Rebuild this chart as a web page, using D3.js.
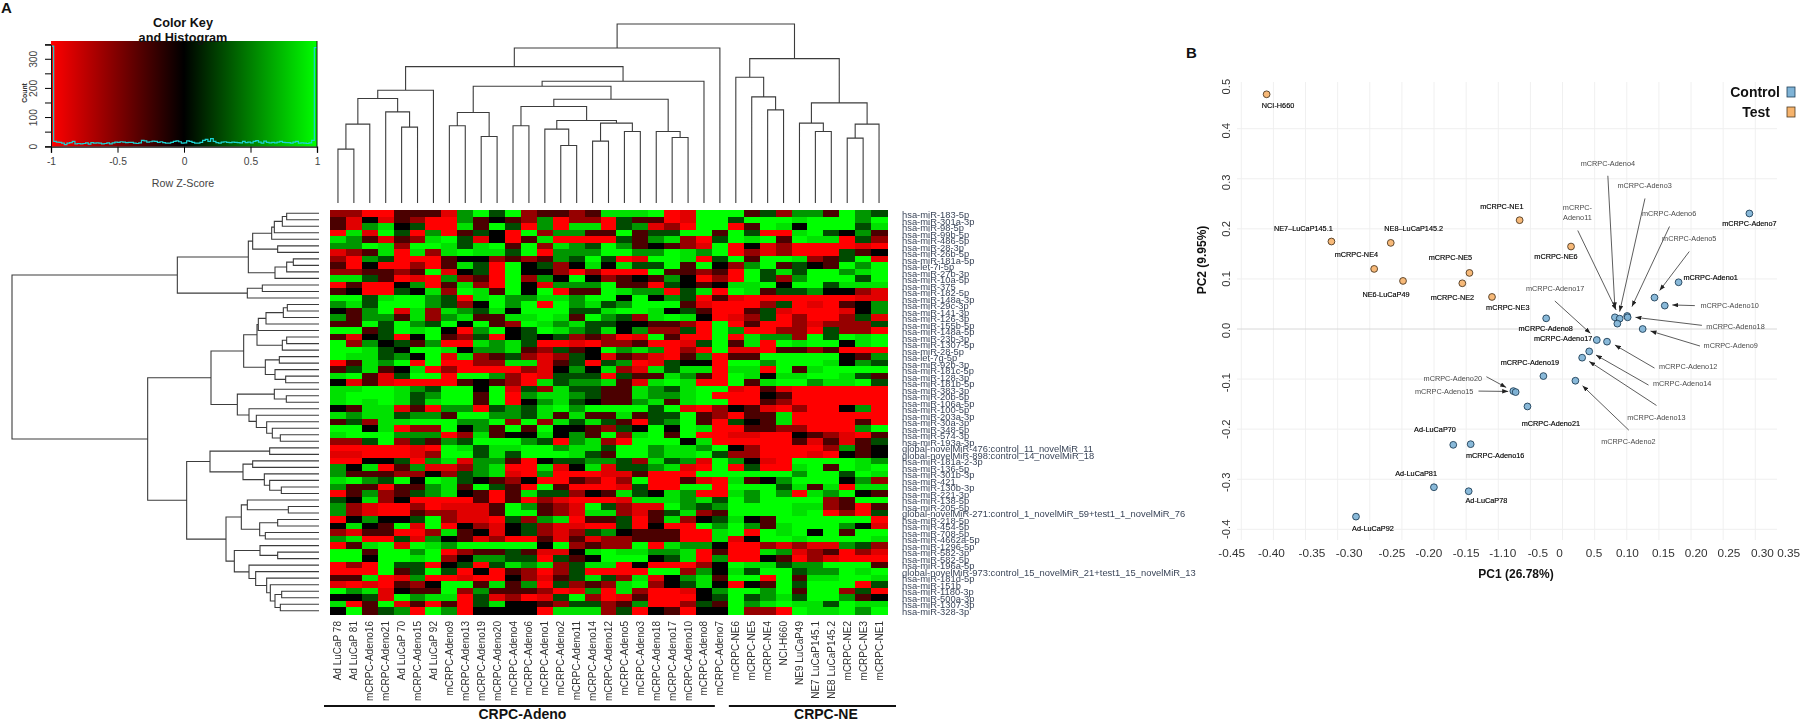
<!DOCTYPE html>
<html><head><meta charset="utf-8">
<style>html,body{margin:0;padding:0;background:#fff}svg{display:block}text{font-family:"Liberation Sans",Arial,sans-serif}</style>
<script src="https://cdn.jsdelivr.net/npm/d3@7/dist/d3.min.js"></script></head><body>
<script>
// ---------- Panel A data ----------
const colLabels = ["Ad LuCaP 78","Ad LuCaP 81","mCRPC-Adeno16","mCRPC-Adeno21","Ad LuCaP 70","mCRPC-Adeno15","Ad LuCaP 92","mCRPC-Adeno9","mCRPC-Adeno13","mCRPC-Adeno19","mCRPC-Adeno20","mCRPC-Adeno4","mCRPC-Adeno6","mCRPC-Adeno1","mCRPC-Adeno2","mCRPC-Adeno11","mCRPC-Adeno14","mCRPC-Adeno12","mCRPC-Adeno5","mCRPC-Adeno3","mCRPC-Adeno18","mCRPC-Adeno17","mCRPC-Adeno10","mCRPC-Adeno8","mCRPC-Adeno7","mCRPC-NE6","mCRPC-NE5","mCRPC-NE4","NCI-H660","NE9 LuCaP49","NE7 LuCaP145.1","NE8 LuCaP145.2","mCRPC-NE2","mCRPC-NE3","mCRPC-NE1"];
const rowLabels = ["hsa-miR-183-5p","hsa-miR-301a-3p","hsa-miR-98-5p","hsa-miR-99b-5p","hsa-miR-486-5p","hsa-miR-28-3p","hsa-miR-26b-5p","hsa-miR-181a-5p","hsa-let-7i-5p","hsa-miR-27b-3p","hsa-miR-10a-5p","hsa-miR-375","hsa-miR-182-5p","hsa-miR-148a-3p","hsa-miR-29c-3p","hsa-miR-141-3p","hsa-miR-126-3p","hsa-miR-155b-5p","hsa-miR-148a-5p","hsa-miR-23b-3p","hsa-miR-1307-5p","hsa-miR-28-5p","hsa-let-7g-5p","hsa-miR-92b-3p","hsa-miR-181c-5p","hsa-miR-128-3p","hsa-miR-181b-5p","hsa-miR-383-3p","hsa-miR-20b-5p","hsa-miR-106a-5p","hsa-miR-100-5p","hsa-miR-203a-3p","hsa-miR-30a-3p","hsa-miR-348-5p","hsa-miR-574-3p","hsa-miR-193a-3p","global-novelMiR-476:control_11_novelMiR_11","global-novelMiR-898:control_14_novelMiR_18","hsa-miR-181a-2-3p","hsa-miR-136-5p","hsa-miR-301b-3p","hsa-miR-421","hsa-miR-130b-3p","hsa-miR-221-3p","hsa-miR-138-5p","hsa-miR-205-5p","global-novelMiR-271:control_1_novelMiR_59+test1_1_novelMiR_76","hsa-miR-218-5p","hsa-miR-454-5p","hsa-miR-708-5p","hsa-miR-4662a-5p","hsa-miR-1296-5p","hsa-miR-582-3p","hsa-miR-582-5p","hsa-miR-196a-5p","global-novelMiR-973:control_15_novelMiR_21+test1_15_novelMiR_13","hsa-miR-181d-5p","hsa-miR-151b","hsa-miR-1180-3p","hsa-miR-500a-3p","hsa-miR-1307-3p","hsa-miR-328-3p"];
// Heat cells: 0 = full red, 4 = black, 8 = full green (one string per row).
const heatRows = [
"22003 33168 58233 23777 80188 83526 63865","31413 20063 43260 22053 30188 58887 88868","31674 50073 85060 77056 12088 03874 88857",
"07185 06035 40826 63383 55883 85007 85463","76313 27851 40370 00053 67205 87838 77052","66872 88757 83827 65863 43218 04120 00010",
"12370 72787 75806 66886 68768 02120 00534","20650 00344 23236 58501 88705 83887 23581","30400 20375 08452 47475 58384 26835 43868",
"22332 38145 08442 02000 83323 08575 88678","77530 10623 08264 84234 36402 08526 88858","03004 60372 08416 66833 05434 77848 85777",
"34005 47287 38480 33876 60570 87355 64421","88578 86507 86677 68848 46503 10000 00011","67588 86524 86808 67568 88310 00250 10346",
"43681 72765 74888 55788 74530 03510 00146","63663 72673 37787 38652 78740 12502 00251","33858 65848 32876 75544 33208 03002 12225",
"88358 78406 84587 65746 22508 60022 05220","31450 48325 04545 23201 83008 07662 85878","82645 36007 67500 10223 00158 37087 88478",
"88754 88746 67325 34867 60208 11033 23000","87756 48172 35212 54132 10360 33888 88436","03768 08002 27713 50560 15440 88688 87465",
"35734 70200 00214 64721 75770 77083 78888","78315 88088 62015 55053 37630 87477 88753","41310 00034 32075 66731 78700 83788 67785",
"77887 65884 81527 55337 65788 10310 00000","78887 56883 80677 65337 66780 00430 00000","78787 57883 80467 54336 73788 00320 00000",
"43771 30660 56578 68888 58102 43102 00460","76775 66388 66573 73373 55832 03370 00000","35277 88866 82827 57530 56830 54370 00030",
"88470 22846 38384 43254 84870 03322 00068","78886 66027 34474 63827 83800 11004 32103","22582 53658 88650 67208 88470 00003 13135",
"00000 10875 77886 77588 67768 42000 02634","11000 12885 75888 75388 67785 22000 10434","00445 06716 63045 56652 75618 64108 88876",
"64703 61126 70071 47155 67108 05007 83878","63332 24256 71060 00113 00088 88886 88587","78658 48754 32400 32028 00310 73468 88462",
"63303 36738 53083 00015 00880 88857 37077","03623 56743 03755 24375 47600 76860 76843","54724 00003 03021 00017 77675 86888 82388",
"62100 20111 38632 18521 18656 88887 72303","62100 32211 38832 17721 35723 88887 80205","04644 58211 05267 03350 37245 74388 88880",
"47438 18042 14521 10050 40086 86378 88641","21330 02734 14521 25643 33007 80878 48388","67005 16431 20031 31223 33007 14887 88887",
"03781 87688 88848 23228 07664 00212 11652","88388 68023 35311 47877 66703 00761 23021","88488 78246 65505 34888 45706 00430 21000",
"02085 50450 57672 57704 00024 87756 68883","00083 58504 03202 50000 88264 75885 66878","33701 60010 04213 57527 14673 88083 77887",
"10103 24883 73605 23278 24574 04385 88805","86714 33826 33320 16072 00146 88683 88250","44518 67705 12015 82013 00045 85675 88634",
"70381 30305 74432 55236 00253 86787 75877","48356 08604 44407 77250 43044 82208 77868"];
// Dendrograms: [merge height, left, right]; integers are leaf indices.
const topTree = [538,[466,[410,[339,[314,[237,[162,0,1],2],[274,3,[228,4,5]]],6],[366,[351,[272,[232,7,8],[200,9,10]],[312,[290,[232,11,12],[248,[222,13,[173,14,15]],[240,[186,16,17],[215,18,19]]]],[215,20,[197,21,22]]]],23]],24],[434,[378,25,[319,26,[280,27,28]]],[301,[240,29,[215,30,31]],[237,[195,32,33],34]]]];
const leftTree = [921,[425,[212,[199,[142,[134,[110,[97,0,1],2],3],4],[124,5,6]],[132,[97,[77,7,8],9],10]],[215,[170,11,12],13]],[514,[324,[226,[186,[182,[159,[107,[95,14,15],16],17],18],[110,[97,19,20],21]],[161,[119,22,23],[132,24,[100,25,26]]]],[245,[134,27,[98,28,29]],[210,30,[188,31,[157,32,[140,33,[116,34,35]]]]]]],[397,[327,[148,36,37],[228,[199,38,39],[164,40,[148,41,[113,42,43]]]]],[279,[233,[215,44,[92,45,46]],[178,[124,47,48],[161,49,50]]],[254,[177,51,[124,52,53]],[210,54,[190,55,[157,56,[146,57,[132,[112,58,59],[116,60,61]]]]]]]]]]];
const histCounts = [345,18,16,15,12,7,12,14,18,10,11,10,11,13,9,14,12,13,12,10,11,13,10,13,16,15,17,16,14,15,15,12,11,13,22,20,16,17,19,18,15,17,14,12,12,15,18,20,17,12,13,20,18,15,12,12,15,22,25,18,28,18,14,12,16,17,15,14,16,15,14,13,18,14,16,13,18,21,16,12,19,15,13,15,13,16,18,15,14,14,12,16,18,12,13,12,11,13,22,340];
const keyXTicks = [-1,-0.5,0,0.5,1];
const keyYTicks = [0,50,100,150,200,250,300,350];
const keyYLabels = [0,100,200,300];
const brackets = ["CRPC-Adeno","CRPC-NE"];

// ---------- Panel B data ----------
const pcaNames = ["NCI-H660","NE7–LuCaP145.1","NE8–LuCaP145.2","mCRPC-NE4","NE6-LuCaP49","mCRPC-NE1","mCRPC-NE6","mCRPC-NE5","mCRPC-NE2","mCRPC-NE3","mCRPC-Adeno7","mCRPC-Adeno1","mCRPC-Adeno5","mCRPC-Adeno10","mCRPC-Adeno11","mCRPC-Adeno4","mCRPC-Adeno3","mCRPC-Adeno6","mCRPC-Adeno18","mCRPC-Adeno9","mCRPC-Adeno17","mCRPC-Adeno12","mCRPC-Adeno14","mCRPC-Adeno13","mCRPC-Adeno8","mCRPC-Adeno19","mCRPC-Adeno2","mCRPC-Adeno20","mCRPC-Adeno15","mCRPC-Adeno21","Ad-LuCaP70","mCRPC-Adeno16","Ad-LuCaP81","Ad-LuCaP78","Ad-LuCaP92"];
const pcaGroup = ["Test","Test","Test","Test","Test","Test","Test","Test","Test","Test","Control","Control","Control","Control","Control","Control","Control","Control","Control","Control","Control","Control","Control","Control","Control","Control","Control","Control","Control","Control","Control","Control","Control","Control","Control"];
const pc1 = [-.4106,-.3097,-.2174,-.2432,-.1983,-.0168,.0632,-.0949,-.106,-.0598,.3408,.2306,.1931,.2091,.1315,.1389,.1353,.1506,.1513,.1747,.1033,.1192,.0915,.0805,.0245,.0202,.07,-.0266,-.023,-.0046,-.1201,-.093,-.1502,-.0961,-.2715];
const pc2 = [.4687,.1747,.172,.12,.096,.2173,.1647,.112,.0913,.064,.2307,.0933,.0627,.0467,.0233,.0207,.0107,.026,.0233,0,-.022,-.0253,-.0447,-.0573,.0213,-.094,-.1033,-.124,-.126,-.1547,-.2313,-.23,-.316,-.324,-.3747];
const gridPc1 = [-.45,-.4,-.35,-.3,-.25,-.2,-.15,-.1,-.05,0,.05,.1,.15,.2,.25,.3,.35];
const gridPc2 = [-.4,-.3,-.2,-.1,0,.1,.2,.3,.4];
const pc1TickLabels = ["-0.45","-0.40","-0.35","-0.30","-0.25","-0.20","-0.15","-1.10","-0.5","0","0.5","0.10","0.15","0.20","0.25","0.30","0.35"];
const pc1TickAt = [-.465,-.403,-.34,-.282,-.2155,-.158,-.1,-.043,.0115,.0454,.099,.151,.207,.258,.309,.361,.402];
const pc2TickLabels = ["-0.4","-0.3","-0.2","-0.1","0.0","0.1","0.2","0.3","0.4","0.5"];
const pc2TickAt = [-.4,-.306,-.2,-.107,-.003,.1,.2,.293,.396,.484];
// Text labels: text, pc1, pc2 of the text centre, and whether printed dark.
const noteText = ["NCI-H660","NE7–LuCaP145.1","NE8–LuCaP145.2","mCRPC-NE4","NE6-LuCaP49","mCRPC-NE1","mCRPC-NE6","mCRPC-NE5","mCRPC-NE2","mCRPC-NE3","mCRPC-Adeno7","mCRPC-Adeno1","mCRPC-Adeno5","mCRPC-Adeno10","mCRPC-Adeno18","mCRPC-Adeno9","mCRPC-Adeno12","mCRPC-Adeno14","mCRPC-Adeno13","mCRPC-Adeno2","mCRPC-Adeno4","mCRPC-Adeno3","mCRPC-","Adeno11","mCRPC-Adeno6","mCRPC-Adeno17","mCRPC-Adeno8","mCRPC-Adeno17","mCRPC-Adeno19","mCRPC-Adeno20","mCRPC-Adeno15","mCRPC-Adeno21","Ad-LuCaP70","mCRPC-Adeno16","Ad-LuCaP81","Ad-LuCaP78","Ad-LuCaP92"];
const notePc1 = [-.3928,-.3534,-.1817,-.2709,-.2248,-.0445,.0398,-.1245,-.1214,-.0352,.3408,.2805,.2472,.31,.3192,.3118,.2454,.2362,.1962,.1525,.1205,.1777,.0731,.0731,.2158,.0386,.0238,.0509,-.0008,-.1208,-.1343,.0318,-.1485,-.0549,-.178,-.0685,-.2451];
const notePc2 = [.4467,.2007,.2007,.148,.07,.2447,.1447,.142,.064,.0427,.2107,.1033,.18,.0473,.006,-.0327,-.0753,-.1093,-.1773,-.224,.3307,.286,.2433,.2227,.23,.0813,.0013,-.0193,-.0667,-.098,-.124,-.1893,-.2007,-.2527,-.288,-.3427,-.3987];
const noteDark = [1,1,1,1,1,1,1,1,1,1,1,1,0,0,0,0,0,0,0,0,0,0,0,0,0,0,1,1,1,0,0,1,1,1,1,1,1];
// Leader arrows: from (pc1,pc2) to (pc1,pc2).
const arrowFromPc1 = [.1205,.1783,.0737,.2165,.2472,.2559,.2669,.2639,.038,.1931,.1838,.1962,.1531,-.0685,-.0808];
const arrowFromPc2 = [.306,.2607,.1967,.2047,.1547,.0467,.0073,-.034,.056,-.078,-.112,-.1527,-.202,-.0953,-.124];
const arrowToPc1 = [.1315,.1389,.1334,.158,.2011,.2208,.1635,.1869,.0934,.1315,.102,.0915,.0811,-.0377,-.0346];
const arrowToPc2 = [.0413,.0347,.038,.0447,.0767,.048,.0233,-.004,-.0087,-.032,-.052,-.0647,-.1133,-.1167,-.1247];
const legendItems = ["Control","Test"];

// ---------- Drawing ----------
const svg = d3.select("body").append("svg").attr("width",1800).attr("height",722);
const defs = svg.append("defs");
const soft = svg.append("g");
const keyColor = d3.scaleLinear().domain([-1,0,1]).range(["#ff0000","#000000","#00ff00"]).clamp(true);
const groupFill = d => d==="Control" ? "#7fb3d6" : "#f6b36c";
const groupStroke = d => d==="Control" ? "#1f3f58" : "#4f3a22";

soft.append("text").attr("x",1).attr("y",13).attr("font-size",15).attr("font-weight","bold").attr("fill","#111").text("A");
soft.append("text").attr("x",1186).attr("y",58).attr("font-size",15).attr("font-weight","bold").attr("fill","#111").text("B");

// Heatmap: the digits are stretched a little so that 1 and 7 read as nearly saturated.
const heat = heatRows.map(r => r.replace(/ /g,"").split("").map(c => (+c-4)/3.4));
const xCol = d3.scaleBand().domain(d3.range(colLabels.length)).range([330,887]);
const yRow = d3.scaleBand().domain(d3.range(heat.length)).range([210,614]);
soft.append("g").attr("shape-rendering","crispEdges").selectAll("g").data(heat).join("g")
  .attr("transform",(d,i)=>`translate(0,${yRow(i)})`)
  .selectAll("rect").data(d=>d).join("rect")
  .attr("x",(d,j)=>xCol(j)).attr("width",xCol.bandwidth()+.5).attr("height",yRow.bandwidth()+.5).attr("fill",d=>keyColor(d));

// Dendrograms
function layoutTree(tree, leafPos){
  const root = d3.hierarchy(tree, d=>Array.isArray(d)?d.slice(1):null);
  root.eachAfter(n=>{
    if(n.children){ n.h=n.data[0]; n.p=(n.children[0].p+n.children[1].p)/2; }
    else { n.h=0; n.p=leafPos(n.data); }
  });
  return root;
}
const colCenter = i => xCol(i)+xCol.bandwidth()/2;
const rowCenter = i => yRow(i)+yRow.bandwidth()/2;
const topH = d3.scaleLinear().domain([0,538]).range([203,24]);
const leftH = d3.scaleLinear().domain([0,921]).range([319,12]);
const topRoot = layoutTree(topTree,colCenter);
const topPath = d3.path();
topRoot.each(n=>{ if(n.children){ const [a,b]=n.children;
  topPath.moveTo(a.p,topH(a.h)); topPath.lineTo(a.p,topH(n.h)); topPath.lineTo(b.p,topH(n.h)); topPath.lineTo(b.p,topH(b.h)); }});
soft.append("path").attr("d",topPath.toString()).attr("fill","none").attr("stroke","#3c3c3c").attr("stroke-width",1.1);
const leftRoot = layoutTree(leftTree,rowCenter);
const leftPath = d3.path();
leftRoot.each(n=>{ if(n.children){ const [a,b]=n.children;
  leftPath.moveTo(leftH(a.h),a.p); leftPath.lineTo(leftH(n.h),a.p); leftPath.lineTo(leftH(n.h),b.p); leftPath.lineTo(leftH(b.h),b.p); }});
soft.append("path").attr("d",leftPath.toString()).attr("fill","none").attr("stroke","#3c3c3c").attr("stroke-width",1.1);

// Labels
const labelsA = svg.append("g").style("filter","blur(0.3px)");
labelsA.append("g").selectAll("text").data(colLabels).join("text")
  .attr("transform",(d,i)=>`translate(${colCenter(i)+3.5},621) rotate(-90)`)
  .attr("text-anchor","end").attr("font-size",10).attr("fill","#303030").text(d=>d);
const yRowLabel = d3.scalePoint().domain(rowLabels).range([215,612]);
labelsA.append("g").selectAll("text").data(rowLabels).join("text")
  .attr("x",902).attr("y",d=>yRowLabel(d)+3).attr("font-size",9.4).attr("fill","#3a4558").text(d=>d);
const bracketLeft = {"CRPC-Adeno":xCol(0)-6,"CRPC-NE":xCol(25)+1};
const bracketRight = {"CRPC-Adeno":xCol(24)-13+xCol.bandwidth(),"CRPC-NE":xCol(34)+xCol.bandwidth()+9};
const bracketText = {"CRPC-Adeno":3,"CRPC-NE":13.5};
soft.append("g").selectAll("line").data(brackets).join("line")
  .attr("x1",d=>bracketLeft[d]).attr("x2",d=>bracketRight[d]).attr("y1",706).attr("y2",706)
  .attr("stroke","#111").attr("stroke-width",2);
soft.append("g").selectAll("text").data(brackets).join("text")
  .attr("x",d=>(bracketLeft[d]+bracketRight[d])/2+bracketText[d]).attr("y",719).attr("text-anchor","middle").attr("font-size",14).attr("font-weight","bold").attr("fill","#111").text(d=>d);

// Colour key
const keyX = d3.scaleLinear().domain([-1,1]).range([51,317]);
const keyY = d3.scaleLinear().domain([0,350]).range([146.7,44.7]);
const grad = defs.append("linearGradient").attr("id","key");
grad.selectAll("stop").data(keyColor.domain()).join("stop")
  .attr("offset",d=>(d+1)/2).attr("stop-color",d=>keyColor(d));
const kg = soft.append("g");
kg.append("rect").attr("x",keyX(-1)).attr("y",41).attr("width",keyX(1)-keyX(-1)).attr("height",105.7).attr("fill","url(#key)");
kg.append("text").attr("x",183).attr("y",27).attr("text-anchor","middle").attr("font-size",12.7).attr("font-weight","bold").attr("fill","#111").text("Color Key");
kg.append("text").attr("x",183).attr("y",42).attr("text-anchor","middle").attr("font-size",12.7).attr("font-weight","bold").attr("fill","#111").text("and Histogram");
const histX = d3.scaleLinear().domain([0,histCounts.length]).range(keyX.range());
const histLine = d3.line().curve(d3.curveStepAfter).x((d,i)=>histX(i)).y(d=>keyY(d));
kg.append("path").attr("d",histLine(histCounts.concat(histCounts[histCounts.length-1]))).attr("fill","none").attr("stroke","#1cd4d4").attr("stroke-width",1.2);
const kxAxis = kg.append("g").attr("transform","translate(0,146.7)").call(d3.axisBottom(keyX).tickValues(keyXTicks).tickSize(6).tickFormat(d=>d));
kxAxis.selectAll("text").attr("font-size",10.3).attr("fill","#444").attr("font-family",'"Liberation Sans"').attr("dy",".9em");
kxAxis.select(".domain").attr("stroke","#111").attr("stroke-width",1.3);
const kyAxis = kg.append("g").attr("transform","translate(51,0)").call(d3.axisLeft(keyY).tickValues(keyYTicks).tickSize(6).tickFormat(d=>keyYLabels.includes(d)?d:""));
kyAxis.selectAll(".tick").attr("transform",null);
kyAxis.selectAll(".tick line").attr("y1",d=>keyY(d)).attr("y2",d=>keyY(d));
kyAxis.selectAll("text").attr("x",-14).attr("y",d=>keyY(d)).attr("dy",null).attr("transform",d=>`rotate(-90,-14,${keyY(d)})`).attr("text-anchor","middle").attr("font-size",10.3).attr("fill","#444").attr("font-family",'"Liberation Sans"');
kyAxis.select(".domain").attr("stroke","#111");
kg.append("line").attr("x1",keyX(1)).attr("x2",keyX(1)).attr("y1",41).attr("y2",146.7).attr("stroke","#111");
kg.append("text").attr("transform","translate(26.5,93) rotate(-90)").attr("text-anchor","middle").attr("font-size",6.8).attr("font-weight","bold").attr("fill","#333").text("Count");
kg.append("text").attr("x",183).attr("y",187).attr("text-anchor","middle").attr("font-size",10.7).attr("fill","#444").text("Row Z-Score");

// PCA
const px = d3.scaleLinear().domain([-.45,.35]).range([1241.3,1755.3]);
const py = d3.scaleLinear().domain([-.4,.4]).range([529.3,128.7]);
const pg = svg.append("g").style("filter","blur(0.4px)");
pg.append("g").selectAll("line").data(gridPc1).join("line")
  .attr("x1",d=>px(d)).attr("x2",d=>px(d)).attr("y1",82).attr("y2",540).attr("stroke","#f0f0f0");
pg.append("g").selectAll("line").data(gridPc2).join("line")
  .attr("x1",1237).attr("x2",1777).attr("y1",d=>py(d)).attr("y2",d=>py(d)).attr("stroke",d=>d===0?"#d8d8d8":"#efefef");
pg.append("g").selectAll("text").data(pc1TickLabels).join("text")
  .attr("x",(d,i)=>px(pc1TickAt[i])).attr("y",557).attr("text-anchor","middle").attr("font-size",11.8).attr("fill","#333").text(d=>d);
pg.append("g").selectAll("text").data(pc2TickLabels).join("text")
  .attr("transform",(d,i)=>`translate(1229.5,${py(pc2TickAt[i])}) rotate(-90)`).attr("text-anchor","middle").attr("font-size",11.3).attr("fill","#333").text(d=>d);
pg.append("text").attr("x",1516).attr("y",578).attr("text-anchor","middle").attr("font-size",12).attr("font-weight","bold").attr("fill","#111").text("PC1 (26.78%)");
pg.append("text").attr("transform","translate(1206,260) rotate(-90)").attr("text-anchor","middle").attr("font-size",12).attr("font-weight","bold").attr("fill","#111").text("PC2 (9.95%)");
defs.append("marker").attr("id","arr").attr("viewBox","0 0 8 6").attr("refX",8).attr("refY",3).attr("markerWidth",6).attr("markerHeight",4.5).attr("markerUnits","userSpaceOnUse").attr("orient","auto")
  .append("path").attr("d","M0,0L8,3L0,6Z").attr("fill","#222");
pg.append("g").selectAll("line").data(arrowFromPc1).join("line")
  .attr("x1",d=>px(d)).attr("y1",(d,i)=>py(arrowFromPc2[i])).attr("x2",(d,i)=>px(arrowToPc1[i])).attr("y2",(d,i)=>py(arrowToPc2[i]))
  .attr("stroke","#333").attr("stroke-width",.8).attr("marker-end","url(#arr)");
pg.append("g").selectAll("circle").data(pcaNames).join("circle")
  .attr("cx",(d,i)=>px(pc1[i])).attr("cy",(d,i)=>py(pc2[i])).attr("r",3.4)
  .attr("fill",(d,i)=>groupFill(pcaGroup[i])).attr("fill-opacity",.92)
  .attr("stroke",(d,i)=>groupStroke(pcaGroup[i])).attr("stroke-width",.9);
pg.append("g").selectAll("text").data(noteText).join("text")
  .attr("x",(d,i)=>px(notePc1[i])).attr("y",(d,i)=>py(notePc2[i])+2.6).attr("text-anchor","middle")
  .attr("font-size",7.3).attr("fill",(d,i)=>noteDark[i]?"#000":"#4a4a4a")
  .attr("stroke",(d,i)=>noteDark[i]?"#000":"none").attr("stroke-width",.15).text(d=>d);
const legendRight = {Control:1780,Test:1770};
const legendY = d3.scalePoint().domain(legendItems).range([92,112]);
pg.append("g").selectAll("text").data(legendItems).join("text")
  .attr("x",d=>legendRight[d]).attr("y",d=>legendY(d)+5).attr("text-anchor","end").attr("font-size",14).attr("font-weight","bold").attr("fill","#111").text(d=>d);
pg.append("g").selectAll("rect").data(legendItems).join("rect")
  .attr("x",1787).attr("y",d=>legendY(d)-5).attr("width",8).attr("height",10)
  .attr("fill",groupFill).attr("stroke",groupStroke).attr("stroke-width",.8);
</script></body></html>
